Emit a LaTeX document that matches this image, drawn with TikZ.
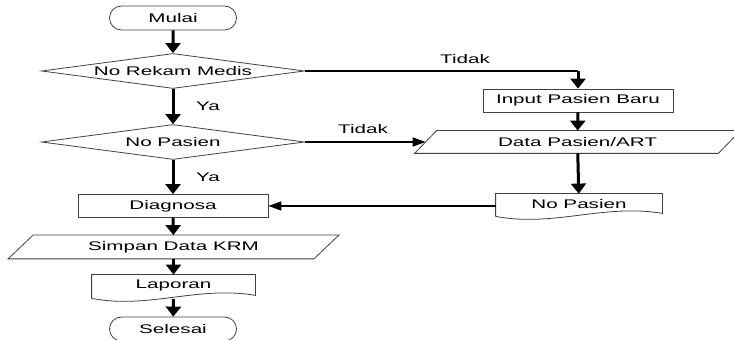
\documentclass[tikz,border=0pt]{standalone}
\usepackage{fontspec}
\setmainfont{Liberation Sans}[FakeStretch=1.65]
\definecolor{lineGray}{HTML}{404040}
\usetikzlibrary{
  positioning,
  calc,
  arrows.meta,
  shapes.geometric,
  shapes.misc
}

\tikzset{
  % Base of every box.
  base/.style = {
    draw = lineGray,
    line width = .8pt,
    font = \fontsize{12.5}{14}\selectfont,
    inner sep = 0pt
  },
  % Box shapes.
  terminal/.style = {
    base,
    rounded rectangle,
    minimum width = 127pt,
    minimum height = 24pt
  },
  decision/.style = {
    base,
    diamond,
    aspect = 7.5,
    minimum width = 263pt,
    minimum height = 35pt
  },
  process/.style = {
    base,
    rectangle,
    minimum width = 190pt,
    minimum height = 23pt
  },
  iobox/.style = {
    base,
    draw = none,
    minimum height = 23pt,
    append after command = {\pgfextra{
      \draw[lineGray, line width = .8pt]
        ([xshift = #1]\tikzlastnode.north west)
        -- ([xshift = #1]\tikzlastnode.north east)
        -- ([xshift = -#1]\tikzlastnode.south east)
        -- ([xshift = -#1]\tikzlastnode.south west) -- cycle;
    }}
  },
  docbox/.style = {
    base,
    draw = none,
    minimum height = 21pt,
    append after command = {\pgfextra{
      \draw[lineGray, line width = .8pt]
        ([yshift = -2pt]\tikzlastnode.south west)
        -- (\tikzlastnode.north west)
        -- (\tikzlastnode.north east)
        -- ([yshift = 1pt]\tikzlastnode.south east)
        .. controls ($(\tikzlastnode.south) + (25pt, 11pt)$)
        and ($(\tikzlastnode.south) + (-25pt, -13pt)$)
        .. ([yshift = -2pt]\tikzlastnode.south west);
    }}
  },
  % Labels on the links.
  tag/.style = {
    font = \fontsize{12.5}{14}\selectfont,
    inner sep = 0pt
  },
  % Link styles.
  flow/.style = {
    line width = 3pt,
    -{Triangle[length = 10pt, width = 15pt]}
  },
  link/.style = {
    line width = 1.6pt,
    -{Triangle[length = 13pt, width = 9pt]}
  },
  wire/.style = {
    line width = 1.6pt
  }
}

\begin{document}
\begin{tikzpicture}[x = 1pt, y = 1pt]
  \useasboundingbox (0, 0) rectangle (734, 340);

  % Main column.
  \node[terminal] (mulai) at (173, 322) {Mulai};
  \node[decision] (rekam) at (173, 269) {No Rekam Medis};
  \node[decision] (cekPasien) at (173, 198) {No Pasien};
  \node[process] (diagnosa) at (173, 134) {Diagnosa};
  \node[iobox = 12.5pt, minimum width = 305pt] (simpan) at (173.5, 93) {Simpan Data KRM};
  \node[docbox, minimum width = 163pt] (laporan) at (173.5, 54.5) {Laporan};
  \node[terminal] (selesai) at (173, 11) {Selesai};

  % Right column.
  \node[process] (inputBaru) at (578, 239.5) {Input Pasien Baru};
  \node[iobox = 11pt, minimum width = 303pt, minimum height = 22pt] (dataPasien) at (577.5, 198) {Data Pasien/ART};
  \node[docbox, minimum width = 166pt, minimum height = 20pt] (noPasien) at (579, 136) {No Pasien};
  \coordinate (corner) at (inputBaru |- rekam);

  % Labels.
  \node[tag] (ya1) at (208, 234) {Ya};
  \node[tag] (ya2) at (208, 163) {Ya};
  \node[tag] (tidak1) at (465, 281) {Tidak};
  \node[tag] (tidak2) at (363, 211) {Tidak};

  % Links.
  \draw[flow] (mulai) -- (rekam);
  \draw[flow] (rekam) -- (cekPasien);
  \draw[flow] (cekPasien) -- (diagnosa);
  \draw[flow] (diagnosa) -- (simpan);
  \draw[flow] (simpan) -- (laporan);
  \draw[flow] (laporan.south |- 0, 41) -- (selesai);
  \draw[wire] (rekam.east) -- (corner);
  \draw[flow] (corner) -- (inputBaru);
  \draw[flow] (inputBaru) -- (dataPasien);
  \draw[link] (cekPasien.east) -- (dataPasien.west);
  \draw[flow] (dataPasien) -- (noPasien);
  \draw[link] (noPasien.west |- diagnosa.east) -- (diagnosa.east);
\end{tikzpicture}
\end{document}
